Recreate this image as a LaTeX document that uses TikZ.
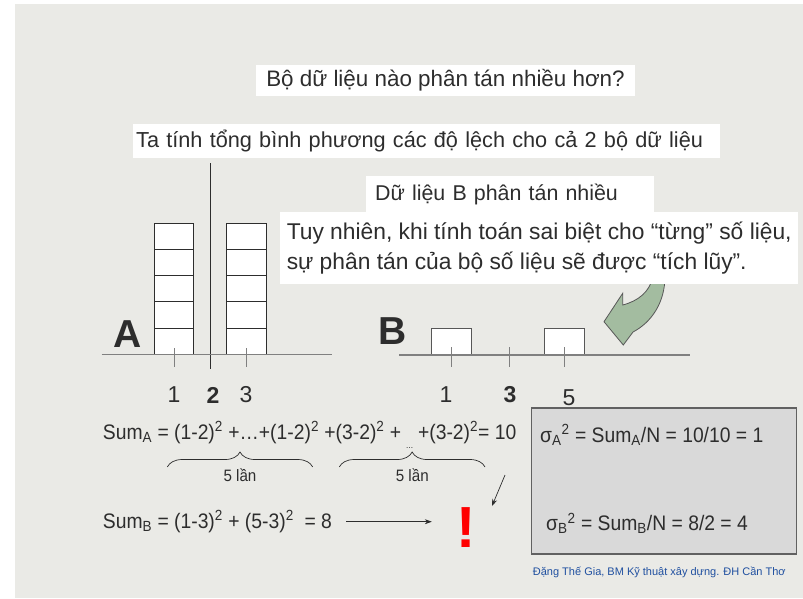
\documentclass[tikz,border=0pt]{standalone}
\usepackage{fontspec}
\setmainfont{Liberation Sans}
\newfontfamily\eqfont{Liberation Sans}[FakeStretch=0.92]
\usetikzlibrary{arrows.meta, decorations.pathreplacing}
\definecolor{paper}{RGB}{234,234,230}
\definecolor{ink}{RGB}{45,45,45}
\definecolor{sage}{RGB}{163,188,160}
\definecolor{panelgray}{RGB}{217,217,217}
\definecolor{creditblue}{RGB}{32,80,160}

\begin{document}
\begin{tikzpicture}[
    x=1pt, y=-1pt,
    font=\fontsize{22.4}{30}\selectfont,
    every node/.style={text=ink},
    textbox/.style={fill=white, inner xsep=8pt, inner ysep=0pt, align=left},
    cell/.style={draw=ink, fill=white, line width=0.9pt, minimum width=39.4pt, minimum height=26.3pt, inner sep=0pt},
    axisline/.style={draw=gray, line width=1.2pt},
    tickline/.style={draw=gray, line width=1pt},
    digit/.style={font=\fontsize{23}{23}\selectfont},
    digitbold/.style={font=\fontsize{23}{23}\selectfont\bfseries},
    setlabel/.style={font=\fontsize{39}{39}\selectfont\bfseries},
    eqn/.style={anchor=west, inner sep=0pt, font=\eqfont\fontsize{21}{21}\selectfont},
    small/.style={font=\eqfont\fontsize{16.5}{16.5}\selectfont},
    arr/.style={-{Stealth[length=7pt,width=5pt]}, line width=0.7pt, draw=ink},
    brc/.style={decorate, decoration={brace, amplitude=15pt}, line width=0.7pt, draw=ink}
]
\fill[white] (0,0) rectangle (803,598);
\fill[paper] (15,4) rectangle (803,598);
\useasboundingbox (0,0) rectangle (803,598);

\node[textbox, minimum height=31pt, inner xsep=10pt] (title) at (445.5,80.5) {Bộ dữ liệu nào phân tán nhiều hơn?};
\node[textbox, anchor=west, minimum height=34pt, inner xsep=3.3pt, text width=580pt, font=\fontsize{21.7}{30}\selectfont] (sumsq) at (132.7,140.5) {Ta tính tổng bình phương các độ lệch cho cả 2 bộ dữ liệu};

\draw[line width=0.9pt, ink] (210.7,163) -- (210.7,369);

\foreach \i in {0,...,4} {
  \node[cell] (cellL\i) at (174,{341.3-26.3*\i}) {};
  \node[cell] (cellR\i) at (246.6,{341.3-26.3*\i}) {};
}
\node[cell, draw=ink!80, minimum width=40pt, minimum height=26.7pt] (cellB1) at (451.7,341.7) {};
\node[cell, draw=ink!80, minimum width=40pt, minimum height=26.7pt] (cellB5) at (564.3,341.7) {};

\draw[axisline] (101.7,354.5) -- (332.3,354.5);
\draw[axisline] (399,355) -- (690,355);
\foreach \x in {174,246.3} \draw[tickline] (\x,348) -- (\x,367);
\foreach \x in {451.7,509.3,564.3} \draw[tickline] (\x,347) -- (\x,367);

\node[setlabel] (labA) at (128,334) {A};
\node[setlabel] (labB) at (393,331) {B};
\node[digit] (a1) at (174,395) {1};
\node[digitbold] (a2) at (213,395) {2};
\node[digit] (a3) at (246,395) {3};
\node[digit] (b1) at (446,395) {1};
\node[digitbold] (b3) at (510,395) {3};
\node[digit] (b5) at (569,398) {5};

\filldraw[fill=sage, draw=ink!80, line width=0.8pt] (653,276) .. controls (650,292) and (638,301) .. (622.7,305) -- (622.7,293.3) -- (604,321.7) -- (623.3,345) -- (633,332) .. controls (652,322) and (665,302) .. (665,276) -- cycle;

\node[textbox, anchor=west, minimum height=36.5pt, inner xsep=9pt, text width=270pt, font=\fontsize{21.4}{30}\selectfont] (spread) at (366,194) {Dữ liệu B phân tán nhiều};
\node[textbox, anchor=north west, minimum width=518pt, minimum height=72pt, inner xsep=0pt, font=\fontsize{22.8}{30}\selectfont] (however) at (280,212) {Tuy nhiên, khi tính toán sai biệt cho “từng” số liệu,\\sự phân tán của bộ số liệu sẽ được “tích lũy”.};

\node[eqn] (sumA) at (102.7,435) {Sum\textsubscript{A} = (1-2)\textsuperscript{2} +…+(1-2)\textsuperscript{2} +(3-2)\textsuperscript{2} +\hspace{5pt}\raisebox{-9pt}{\fontsize{9}{9}\selectfont ...}\hspace{5pt}+(3-2)\textsuperscript{2}= 10};
\coordinate (brA1) at (167.3,467);
\coordinate (brA2) at (312.7,467);
\coordinate (brB1) at (339.3,467);
\coordinate (brB2) at (485,467);
\draw[brc] (brA1) -- (brA2);
\draw[brc] (brB1) -- (brB2);
\node[small] (timesA) at (240,475) {5 lần};
\node[small] (timesB) at (412.3,475) {5 lần};

\node[font=\fontsize{58}{58}\selectfont\bfseries, text=red] (excl) at (466,527.5) {!};
\coordinate (ptrA) at (505,475);
\coordinate (ptrB) at (492,506);
\draw[arr] (ptrA) -- (ptrB);

\node[eqn] (sumB) at (102.7,521.7) {Sum\textsubscript{B} = (1-3)\textsuperscript{2} + (5-3)\textsuperscript{2}\ \ = 8};
\draw[arr, shorten <=14pt, shorten >=21pt] (sumB.east) -- (sumB.east -| excl.west);

\node[draw=ink!75, fill=panelgray, line width=1.2pt, minimum width=264.7pt, minimum height=146pt, anchor=north west] (panel) at (531,407.3) {};
\node[eqn] (varA) at (540,435) {σ\textsubscript{A}\textsuperscript{2} = Sum\textsubscript{A}/N = 10/10 = 1};
\node[eqn] (varB) at (546,523.3) {σ\textsubscript{B}\textsuperscript{2} = Sum\textsubscript{B}/N = 8/2 = 4};

\node[anchor=west, inner sep=0pt, font=\fontsize{11}{11}\selectfont, text=creditblue] (credit) at (532.7,572.7) {Đặng Thế Gia, BM Kỹ thuật xây dựng. ĐH Cần Thơ};

\end{tikzpicture}
\end{document}
